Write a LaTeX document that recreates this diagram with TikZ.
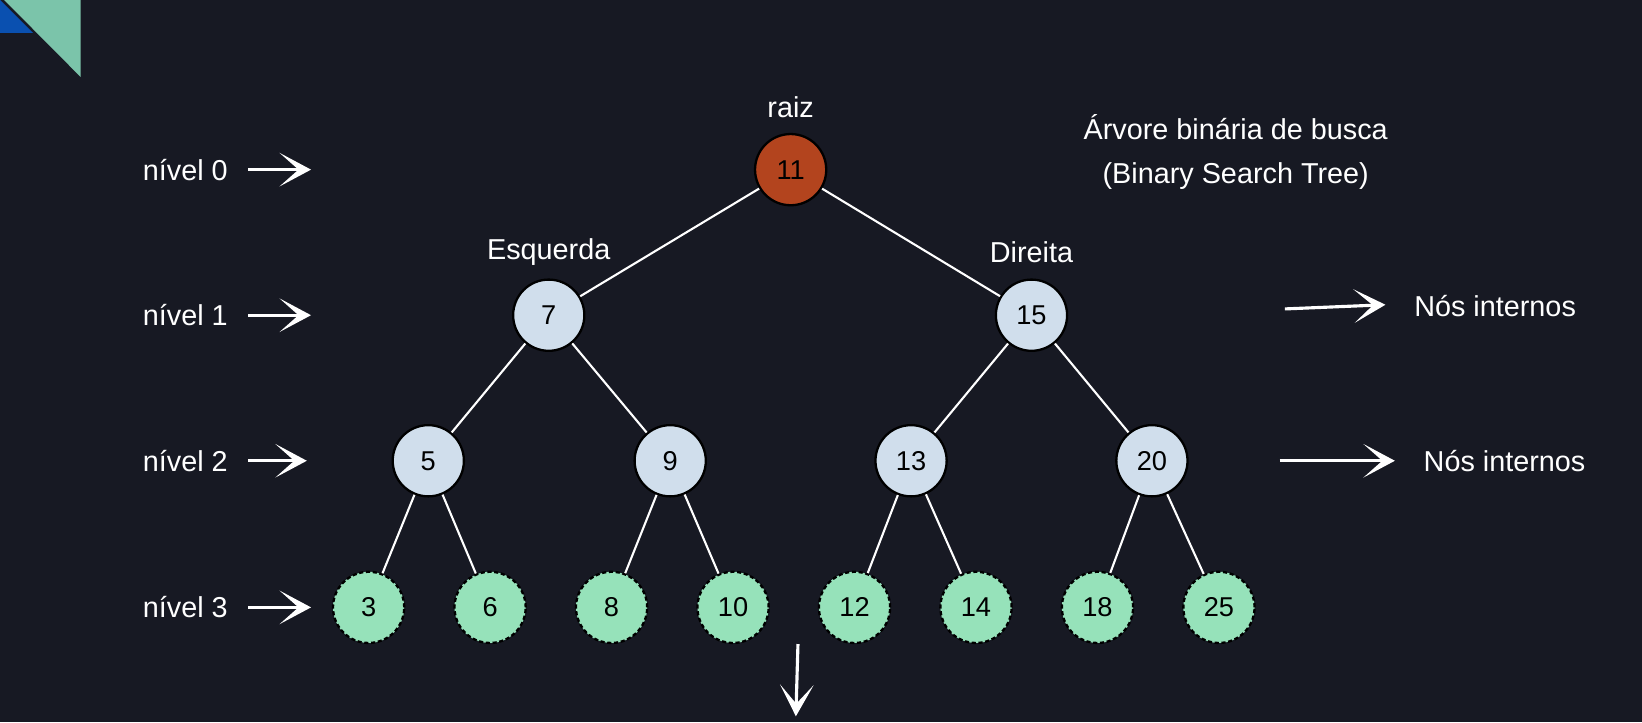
\documentclass[tikz,border=0pt]{standalone}
\usepackage{fontspec}
\setmainfont{Liberation Sans}
\usepackage{xcolor}
\usepackage{tikz}
\usetikzlibrary{arrows.meta}

\definecolor{bgdark}{HTML}{171923}
\definecolor{rootred}{HTML}{B3441E}
\definecolor{innerblue}{HTML}{D0DEEC}
\definecolor{leafgreen}{HTML}{96E2BA}
\definecolor{cornerteal}{HTML}{7BC4AA}
\definecolor{cornerblue}{HTML}{0A50B0}

\begin{document}
\begin{tikzpicture}[x=1pt, y=-1pt,
        treenode/.style={circle, draw=black, line width=2.2pt, minimum size=68pt, inner sep=0pt,
                         font=\fontsize{26}{30}\selectfont},
        rootnode/.style={treenode, fill=rootred},
        innernode/.style={treenode, fill=innerblue},
        leafnode/.style={treenode, fill=leafgreen, dash pattern=on 4pt off 2.5pt},
        branch/.style={white, line width=2pt},
        pointer/.style={white, line width=3pt, -{Stealth[length=30pt, width=32pt, inset=18pt]}},
        txt/.style={text=white, font=\fontsize{27.5}{42}\selectfont}]

        % Background and page size
        \fill[bgdark] (0, 0) rectangle (1568, 689.5);
        \useasboundingbox (0, 0) rectangle (1568, 689.5);

        % Corner decoration
        \fill[cornerblue] (0, 0) -- (31.5, 31.5) -- (0, 31.5) -- cycle;
        \fill[cornerteal] (4, 0) -- (77, 0) -- (77, 73.5) -- cycle;

        % Root of the tree
        \node[rootnode] (n11) at (755, 162) {11};
        \node[txt] (raiz) at (755, 102) {raiz};

        % Internal nodes
        \foreach \val/\x/\y in {
            7/524/301,
            15/985/301,
            5/409/440,
            9/640/440,
            13/870/440,
            20/1100/440}{
            \node[innernode] (n\val) at (\x, \y) {\val};
        }
        \node[txt] (esq) at (524, 241) {Esquerda};
        \node[txt] (dir) at (985, 241) {Direita};

        % Leaves
        \foreach[count=\i] \val in {3, 6, 8, 10, 12, 14, 18, 25}{
            \node[leafnode] (n\val) at (236 + \i * 116, 580) {\val};
        }

        % Branches
        \foreach \a/\b in {11/7, 11/15, 7/5, 7/9, 15/13, 15/20,
                           5/3, 5/6, 9/8, 9/10, 13/12, 13/14, 20/18, 20/25}{
            \draw[branch] (n\a) -- (n\b);
        }

        % Levels on the left
        \foreach \i/\y/\tipx in {0/162/297, 1/301/297, 2/440/293, 3/580/297}{
            \node[txt, anchor=east] (lvl\i) at (221, \y) {nível \i};
            \coordinate (tip\i) at (\tipx, \y);
            \draw[pointer] ([xshift=16pt]lvl\i.east) -- (tip\i);
        }

        % Title
        \node[txt, align=center] (title) at (1180, 145) {Árvore binária de busca\\(Binary Search Tree)};

        % Notes on the right
        \node[txt, anchor=west] (inner1) at (1347, 292) {Nós internos};
        \node[txt, anchor=west] (inner2) at (1356, 440) {Nós internos};
        \coordinate (from1) at (1227, 295);
        \coordinate (from2) at (1222, 440);
        \draw[pointer] (from1) -- ([xshift=-24pt, yshift=1pt]inner1.west);
        \draw[pointer] (from2) -- ([xshift=-24pt]inner2.west);

        % Arrow at the bottom
        \coordinate (down1) at (762, 615);
        \coordinate (down2) at (760, 684);
        \draw[pointer] (down1) -- (down2);
    \end{tikzpicture}
\end{document}
